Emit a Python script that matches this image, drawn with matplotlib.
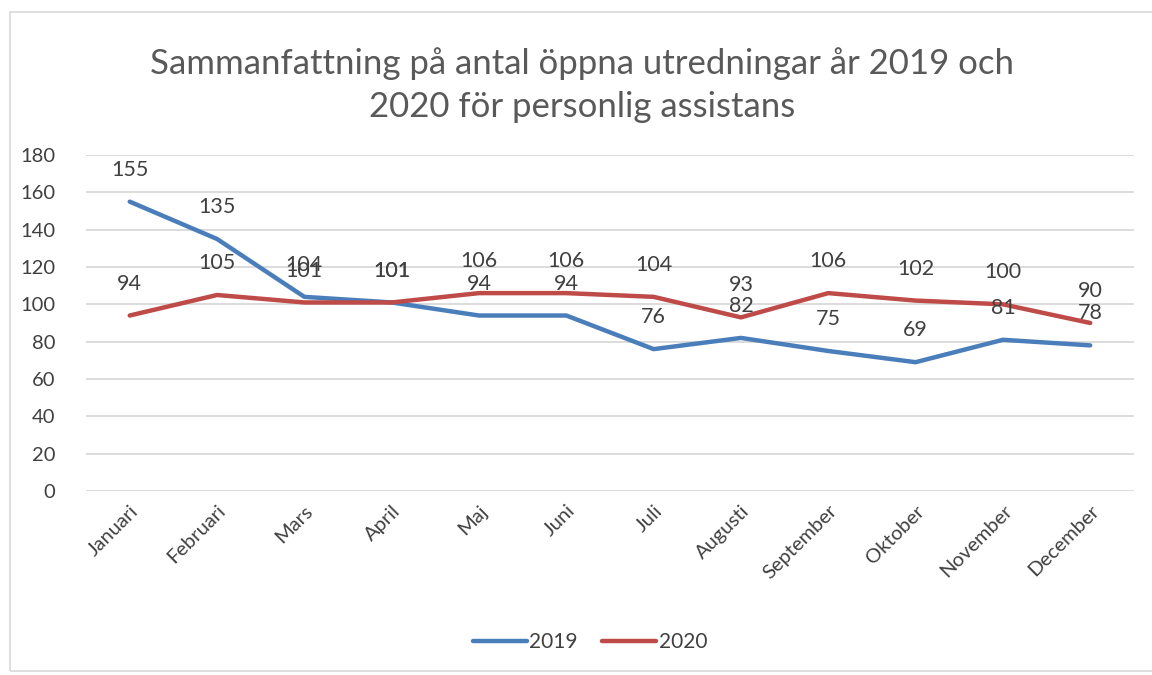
import matplotlib.pyplot as plt
from matplotlib.patches import Rectangle

plt.rcParams['font.family'] = ['Lato', 'DejaVu Sans']

# data
months = ["Januari", "Februari", "Mars", "April", "Maj", "Juni", "Juli",
          "Augusti", "September", "Oktober", "November", "December"]
values_2019 = [155, 135, 104, 101, 94, 94, 76, 82, 75, 69, 81, 78]
values_2020 = [94, 105, 101, 101, 106, 106, 104, 93, 106, 102, 100, 90]

blue = "#4a7ebb"
red = "#be4b48"
text_color = "#404040"

fig = plt.figure(figsize=(11.52, 6.75), dpi=100)
ax = fig.add_axes([0.0747, 0.2726, 0.9096, 0.4978])

x = range(len(months))
ax.plot(x, values_2019, color=blue, linewidth=3.2, label="2019", solid_capstyle="round")
ax.plot(x, values_2020, color=red, linewidth=3.2, label="2020", solid_capstyle="round")

# data labels above points
for xi, v in zip(x, values_2019):
    ax.annotate(str(v), (xi, v), xytext=(0, 23), textcoords="offset points",
                ha="center", va="center", fontsize=15.5, color=text_color)
for xi, v in zip(x, values_2020):
    ax.annotate(str(v), (xi, v), xytext=(0, 23), textcoords="offset points",
                ha="center", va="center", fontsize=15.5, color=text_color)

ax.set_xlim(-0.5, len(months) - 0.5)
ax.set_ylim(0, 180)
ax.set_yticks(range(0, 181, 20))
ax.set_xticks(list(x))
ax.set_xticklabels(months, rotation=45, ha="right", rotation_mode="anchor")
ax.tick_params(axis="both", length=0, labelsize=14.5, labelcolor=text_color)
ax.tick_params(axis="y", pad=22)
ax.tick_params(axis="x", pad=8)
ax.grid(axis="y", color="#d9d9d9", linewidth=1.3)
ax.set_axisbelow(True)
for s in ax.spines.values():
    s.set_visible(False)

fig.text(0.505, 0.874, "Sammanfattning på antal öppna utredningar år 2019 och\n2020 för personlig assistans",
         ha="center", va="center", fontsize=25, color="#595959", linespacing=1.45)

ax.legend(loc="center", bbox_to_anchor=(0.512, 0.049), bbox_transform=fig.transFigure,
          ncol=2, frameon=False, fontsize=15, handlelength=2.6, columnspacing=1.2,
          handletextpad=0.1, labelcolor=text_color)

# chart border
fig.patches.append(Rectangle((0.009, 0.006), 1.2, 0.976, transform=fig.transFigure,
                             fill=False, edgecolor="#d9d9d9", linewidth=1.2))

plt.savefig("out.png")
